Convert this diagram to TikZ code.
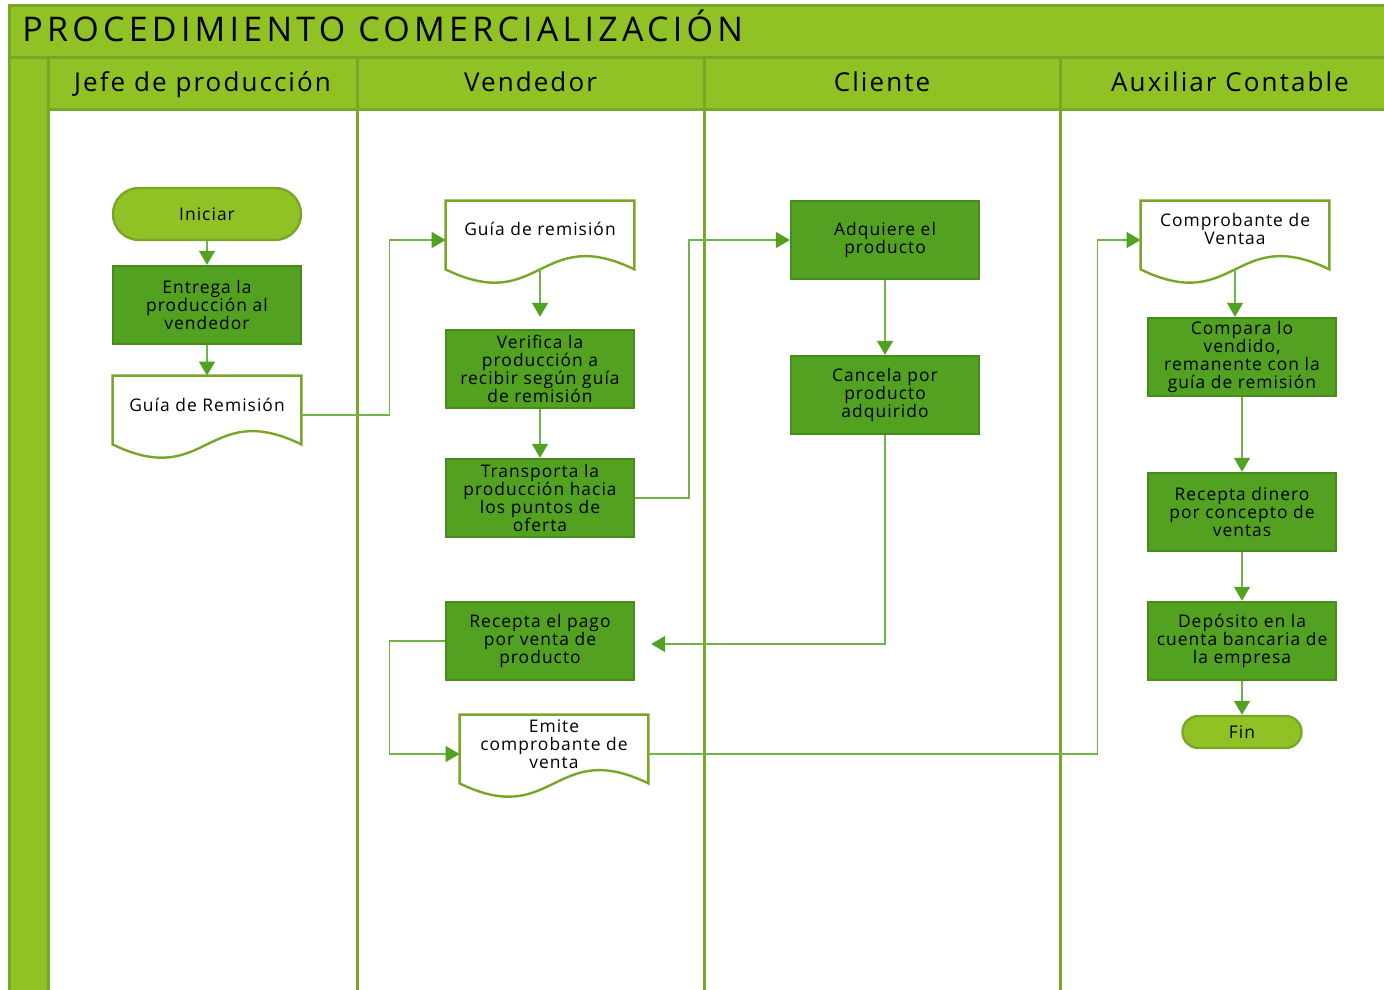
\documentclass[tikz,border=0pt]{standalone}
\usepackage{fontspec}
\setmainfont{Open Sans}
\newfontfamily\spacedfont[LetterSpace=6]{Open Sans}
\newfontfamily\headspaced[LetterSpace=8]{Open Sans}
\newfontfamily\titlespaced[LetterSpace=12.5]{Open Sans}
\usetikzlibrary{positioning, calc, arrows.meta}

\definecolor{bandgreen}{RGB}{145,194,37}
\definecolor{edgegreen}{RGB}{122,166,40}
\definecolor{boxgreen}{RGB}{82,161,32}
\definecolor{boxedge}{RGB}{72,138,28}
\definecolor{linegreen}{RGB}{112,180,72}

\newcommand{\bodyfont}{\spacedfont\fontsize{8.7}{8.9}\selectfont}
\newcommand{\headfont}{\headspaced\fontsize{13}{15}\selectfont}
\newcommand{\titlefont}{\titlespaced\fontsize{17}{20}\selectfont}

% wavy outline of a document node
\newcommand{\docoutline}[1]{%
  \draw[docline] (#1.north west) -- ($(#1.south west)+(0,-10)$)
    .. controls ($(#1.south)+(0,36)$) and ($(#1.south)+(0,-56)$) .. ($(#1.south east)+(0,-10)$)
    -- (#1.north east) -- cycle;}

\tikzset{
  band/.style={fill=bandgreen, draw=edgegreen, line width=1.5pt},
  lane/.style={draw=edgegreen, line width=1.5pt},
  process/.style={rectangle, fill=boxgreen, draw=boxedge, line width=1.2pt,
    minimum width=94pt, minimum height=39pt, inner sep=1pt, align=center, font=\bodyfont},
  terminal/.style={rectangle, fill=bandgreen, draw=edgegreen, line width=1.2pt, font=\bodyfont},
  docbox/.style={rectangle, minimum width=94pt, minimum height=39pt},
  doctext/.style={align=center, font=\bodyfont},
  docline/.style={draw=edgegreen, line width=1.2pt},
  conn/.style={draw=linegreen, line width=0.7pt, ->},
}

\begin{document}
\begin{tikzpicture}[x=0.5pt, y=-0.5pt, >={Triangle[length=7pt, width=8pt, color=boxgreen]}]
  \useasboundingbox[fill=white] (0,0) rectangle (1384,989);

  % frame and lanes
  \draw[band] (9,6) rectangle (1400,58);
  \node[anchor=base west, font=\titlefont, inner sep=0pt] (title) at (22,42) {PROCEDIMIENTO COMERCIALIZACIÓN};
  \draw[band] (9,58) rectangle (48,1000);
  \foreach \xa/\xb/\nm/\txt in {48/357/jefe/Jefe de producción, 357/704/vend/Vendedor,
      704/1060/cli/Cliente, 1060/1400/aux/Auxiliar Contable} {
    \draw[band] (\xa,58) rectangle (\xb,110);
    \node[font=\headfont, anchor=base, inner sep=0pt] (\nm) at ({(\xa+\xb)/2},92) {\txt};
  }
  \foreach \x in {357,704,1060}
    \draw[lane] (\x,110) -- (\x,1000);

  % Jefe de produccion
  \node[terminal, minimum width=94pt, minimum height=26pt, rounded corners=13pt] (iniciar) at (207,214) {Iniciar};
  \node[process] (entrega) at (207,305) {Entrega la\\producción al\\vendedor};
  \node[docbox, label={[doctext, yshift=5pt]center:Guía de Remisión}] (guiaA) at (207,415) {};

  % Vendedor
  \node[docbox, label={[doctext, yshift=5.5pt]center:Guía de remisión}] (guiaB) at (540,240) {};
  \node[process] (verifica) at (540,369) {Verifica la\\producción a\\recibir según guía\\de remisión};
  \node[process] (transporta) at (540,498) {Transporta la\\producción hacia\\los puntos de\\oferta};
  \node[process] (pago) at (540,641) {Recepta el pago\\por venta de\\producto};
  \node[docbox, label={[doctext, yshift=5pt]center:Emite\\comprobante de\\venta}] (emite) at (554,754) {};

  % Cliente
  \node[process] (adquiere) at (885,240) {Adquiere el\\producto};
  \node[process] (cancela) at (885,395) {Cancela por\\producto\\adquirido};

  % Auxiliar contable
  \node[docbox, label={[doctext, yshift=5.5pt]center:Comprobante de\\Ventaa}] (compro) at (1235,240) {};
  \node[process] (compara) at (1242,357) {Compara lo\\vendido,\\remanente con la\\guía de remisión};
  \node[process] (dinero) at (1242,512) {Recepta dinero\\por concepto de\\ventas};
  \node[process] (deposito) at (1242,641) {Depósito en la\\cuenta bancaria de\\la empresa};
  \node[terminal, minimum width=59.5pt, minimum height=16pt, rounded corners=8pt] (fin) at (1242,732) {Fin};

  \foreach \d in {guiaA, guiaB, emite, compro}
    \docoutline{\d};

  % connectors
  \draw[conn] (iniciar) -- (entrega);
  \draw[conn] (entrega) -- (guiaA);
  \draw[conn] (guiaA.east) -| ([xshift=-28pt]guiaB.west) -- (guiaB.west);
  \draw[conn, shorten >=6pt] ([yshift=5pt]guiaB.south) -- (verifica);
  \draw[conn] (verifica) -- (transporta);
  \draw[conn] (transporta.east) -| ([xshift=-50.5pt]adquiere.west) -- (adquiere.west);
  \draw[conn] (adquiere) -- (cancela);
  \draw[conn] (cancela.south) |- ([xshift=8pt, yshift=-1.5pt]pago.east);
  \draw[conn] (pago.west) -| ([xshift=-35pt]emite.west) -- (emite.west);
  \draw[conn] (emite.east) -| ([xshift=-21.5pt]compro.west) -- (compro.west);
  \draw[conn] ([yshift=5pt]compro.south) -- (compro.south |- compara.north);
  \draw[conn] (compara) -- (dinero);
  \draw[conn] (dinero) -- (deposito);
  \draw[conn] (deposito) -- (fin);
\end{tikzpicture}
\end{document}
